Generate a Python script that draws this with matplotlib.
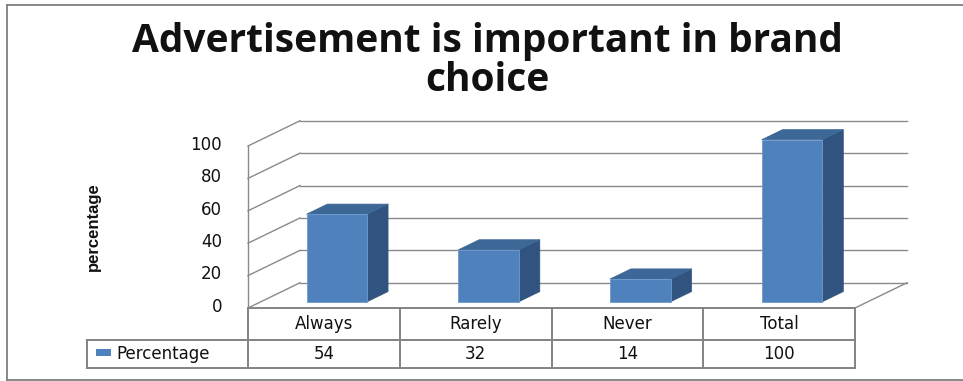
import matplotlib
matplotlib.use('Agg')
import matplotlib.pyplot as plt
from matplotlib.patches import Polygon, Rectangle
from matplotlib.lines import Line2D

# ── data ──────────────────────────────────────────────────────────────────────
categories = ['Always', 'Rarely', 'Never', 'Total']
values = [54, 32, 14, 100]
series_name = 'Percentage'
yticks = [0, 20, 40, 60, 80, 100]
title = 'Advertisement is important in brand\nchoice'
ylabel = 'percentage'

# ── style ─────────────────────────────────────────────────────────────────────
FRONT = '#4F81BD'
SIDE = '#30537F'
TOP = '#3C6797'
GRID = '#8A8A8A'
TABLE = '#838383'
DX, DY = 0.343, 15.6          # floor depth offset (x units, value units)
D0, D1 = 0.25, 0.65           # bar front / back as fraction of depth
HALF = 0.2                    # half bar width in category units
TXT = dict(fontsize=12, family='DejaVu Sans', color='#111')

W, H = 963, 381
fig = plt.figure(figsize=(W / 100, H / 100), dpi=100)
fig.patch.set_facecolor('white')

# front plane: x 0..4 -> px 248..855, value 0..100 -> px 308..146
ax = fig.add_axes([248 / W, (H - 308) / H, 607 / W, 162 / H])
ax.set_xlim(0, len(categories))
ax.set_ylim(0, 100)
ax.axis('off')

n = len(categories)

# ── walls and floor ───────────────────────────────────────────────────────────
for v in yticks:
    ax.add_line(Line2D([0, DX], [v, v + DY], color=GRID, lw=1.0, clip_on=False))
    ax.add_line(Line2D([DX, n + DX], [v + DY, v + DY], color=GRID, lw=1.0,
                       clip_on=False))
    ax.text(-0.17, v + 0.8, str(v), ha='right', va='center', **TXT)
ax.add_line(Line2D([0, 0], [0, 100], color=GRID, lw=1.0, clip_on=False))
ax.add_line(Line2D([n, n + DX], [0, DY], color=GRID, lw=1.0, clip_on=False))

# ── bars ──────────────────────────────────────────────────────────────────────
for i, v in enumerate(values):
    xl = i + 0.5 - HALF + D0 * DX
    xr = i + 0.5 + HALF + D0 * DX
    yb = D0 * DY
    yt = v + D0 * DY
    ox, oy = (D1 - D0) * DX, (D1 - D0) * DY
    side = Polygon([(xr, yb), (xr + ox, yb + oy), (xr + ox, yt + oy), (xr, yt)],
                   closed=True, fc=SIDE, ec=SIDE, lw=0.5, clip_on=False, zorder=3)
    top = Polygon([(xl, yt), (xl + ox, yt + oy), (xr + ox, yt + oy), (xr, yt)],
                  closed=True, fc=TOP, ec=TOP, lw=0.5, clip_on=False, zorder=3)
    front = Rectangle((xl, yb), xr - xl, yt - yb, fc=FRONT, ec='#6E9AD0',
                      lw=0.6, clip_on=False, zorder=4)
    for p in (side, top, front):
        ax.add_patch(p)

# ── data table ────────────────────────────────────────────────────────────────
r0, r1, r2 = 0, -19.8, -37.0
leg_x = -1.06
tkw = dict(color=TABLE, lw=1.4, clip_on=False)
ax.add_line(Line2D([0, n], [r0, r0], **tkw))
ax.add_line(Line2D([leg_x, n], [r1, r1], **tkw))
ax.add_line(Line2D([leg_x, n], [r2, r2], **tkw))
ax.add_line(Line2D([leg_x, leg_x], [r1, r2], **tkw))
for i in range(n + 1):
    ax.add_line(Line2D([i, i], [r0, r2], **tkw))

for i, (c, v) in enumerate(zip(categories, values)):
    ax.text(i + 0.5, (r0 + r1) / 2 + 0.3, c, ha='center', va='center', **TXT)
    ax.text(i + 0.5, (r1 + r2) / 2 + 0.3, str(v), ha='center', va='center',
            **TXT)

ax.add_patch(Rectangle((-1.0, -29.8), 0.1, 4.6, fc=FRONT, ec='none',
                       clip_on=False))
ax.text(-0.865, (r1 + r2) / 2 + 0.3, series_name, ha='left', va='center', **TXT)

# ── titles ────────────────────────────────────────────────────────────────────
fig.text(487 / W, 1 - 22 / H, title, ha='center', va='top', fontsize=28,
         fontweight='bold', family=['Open Sans', 'DejaVu Sans'],
         linespacing=1.0, color='#111')
fig.text(93 / W, 1 - 227 / H, ylabel, ha='center', va='center', rotation=90,
         fontsize=12, fontweight='bold',
         family=['Liberation Sans', 'DejaVu Sans'], color='#111')

# ── chart border ──────────────────────────────────────────────────────────────
bkw = dict(color='#7F7F7F', lw=1.3, transform=fig.transFigure)
fig.add_artist(Line2D([7 / W, 1], [1 - 5 / H, 1 - 5 / H], **bkw))
fig.add_artist(Line2D([7 / W, 1], [1 - 380 / H, 1 - 380 / H], **bkw))
fig.add_artist(Line2D([7 / W, 7 / W], [1 - 5 / H, 1 - 380 / H], **bkw))

fig.savefig('out.png', dpi=100, facecolor='white')
plt.close(fig)
